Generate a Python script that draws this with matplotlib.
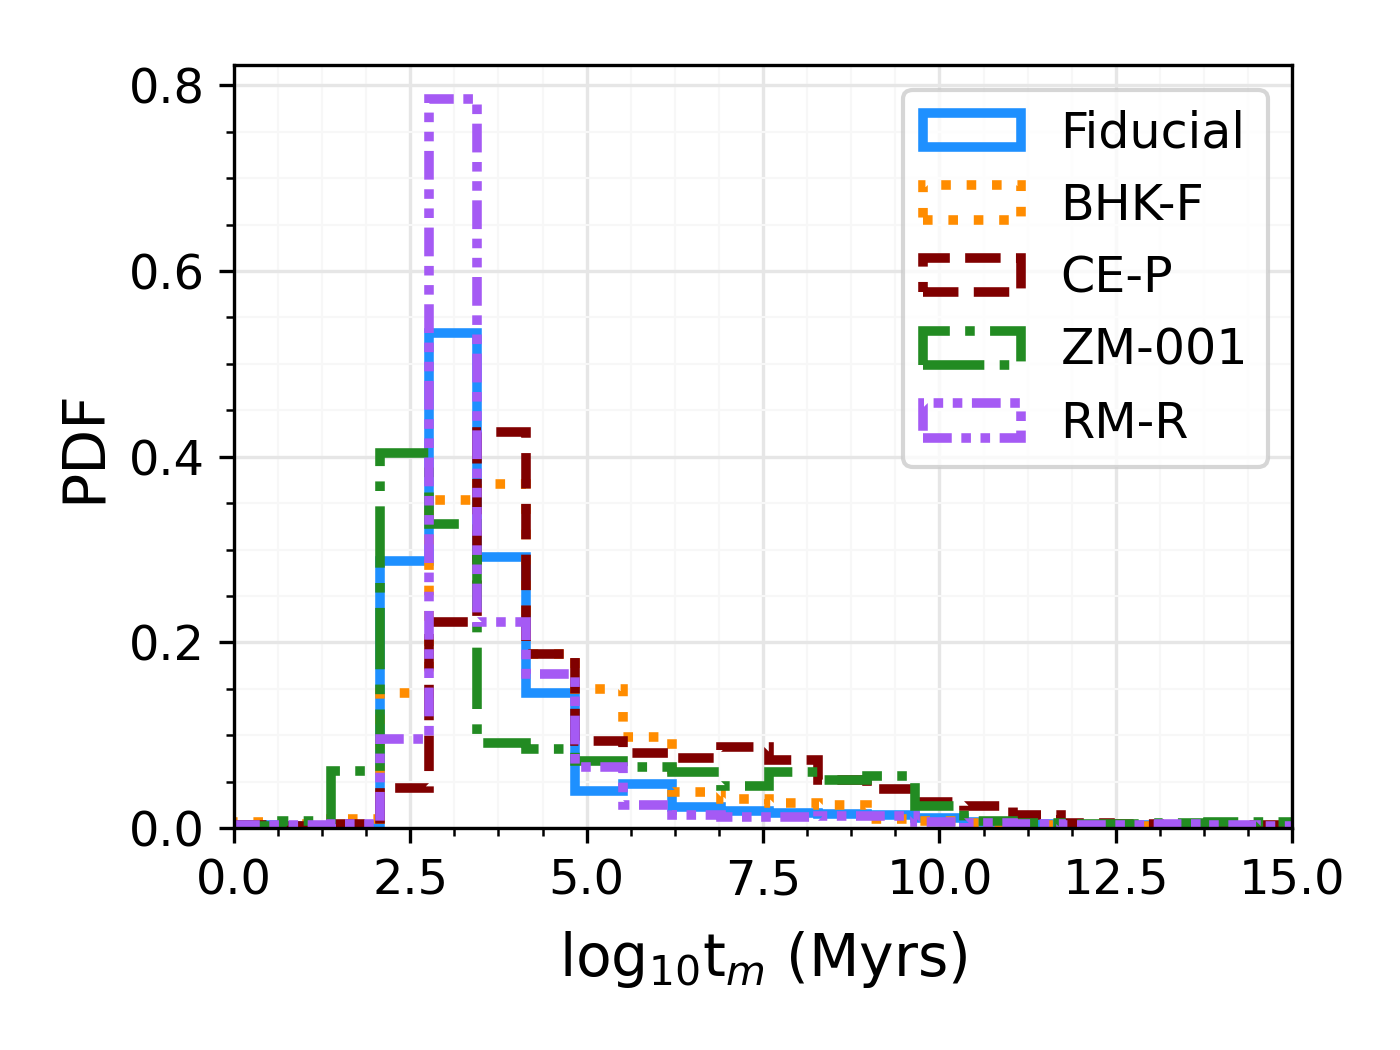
import numpy as np
import matplotlib.pyplot as plt
from matplotlib.patches import Patch
from matplotlib.ticker import MultipleLocator

#%% histogram values (common bins of width 0.69)
edges = np.arange(23) * 0.69

fiducial = [0.003, 0.002, 0.003, 0.288, 0.533, 0.292, 0.145, 0.040, 0.047, 0.023, 0.018,
            0.016, 0.015, 0.014, 0.011, 0.006, 0.004, 0.003, 0.003, 0.002, 0.002, 0.002]
bhk_f = [0.006, 0.004, 0.010, 0.146, 0.353, 0.371, 0.187, 0.150, 0.098, 0.039, 0.031,
         0.027, 0.025, 0.010, 0.008, 0.005, 0.003, 0.003, 0.002, 0.002, 0.001, 0.001]
ce_p = [0.003, 0.002, 0.004, 0.043, 0.222, 0.427, 0.187, 0.094, 0.081, 0.075, 0.087,
        0.073, 0.052, 0.042, 0.028, 0.024, 0.014, 0.005, 0.004, 0.003, 0.003, 0.003]
zm_001 = [0.002, 0.008, 0.061, 0.404, 0.327, 0.092, 0.085, 0.072, 0.066, 0.060, 0.045,
          0.060, 0.052, 0.056, 0.024, 0.008, 0.005, 0.004, 0.004, 0.005, 0.006, 0.007]
rm_r = [0.003, 0.003, 0.004, 0.096, 0.785, 0.222, 0.166, 0.066, 0.025, 0.014, 0.012,
        0.012, 0.013, 0.013, 0.006, 0.005, 0.004, 0.003, 0.003, 0.004, 0.003, 0.002]

labels = ['Fiducial', 'BHK-F', 'CE-P', 'ZM-001', 'RM-R']
colors = ['dodgerblue', 'darkorange', 'maroon', 'forestgreen', '#a55af4']
styles = ['-', ':', '--', '-.', (0, (3, 1, 1, 1, 1, 1))]
series = [fiducial, bhk_f, ce_p, zm_001, rm_r]

#%% plot
fig = plt.figure(figsize=(1400/300, 1050/300), dpi=300)
ax = fig.add_axes([0.167, 0.2114, 0.756, 0.7267])

handles = []
for vals, lab, col, ls in zip(series, labels, colors, styles):
    ax.stairs(vals, edges, color=col, ls=ls, lw=2.3, fill=False)
    handles.append(Patch(facecolor='none', edgecolor=col, ls=ls, lw=2.3, label=lab))

ax.set_xlim(0, 15)
ax.set_ylim(0, 0.822)
ax.xaxis.set_major_locator(MultipleLocator(2.5))
ax.xaxis.set_minor_locator(MultipleLocator(0.625))
ax.yaxis.set_major_locator(MultipleLocator(0.2))
ax.yaxis.set_minor_locator(MultipleLocator(0.05))
ax.grid(which='major', color='0.9', lw=0.8)
ax.grid(which='minor', color='0.97', lw=0.5)
ax.set_axisbelow(True)
ax.tick_params(labelsize=11.5)

ax.set_xlabel(r'log$_{10}$t$_{m}$ (Myrs)', fontsize=14, labelpad=6)
ax.set_ylabel('PDF', fontsize=14)
ax.legend(handles=handles, loc='upper right', fontsize=11.8, handlelength=2.0)

fig.savefig('out.png', dpi=300)
